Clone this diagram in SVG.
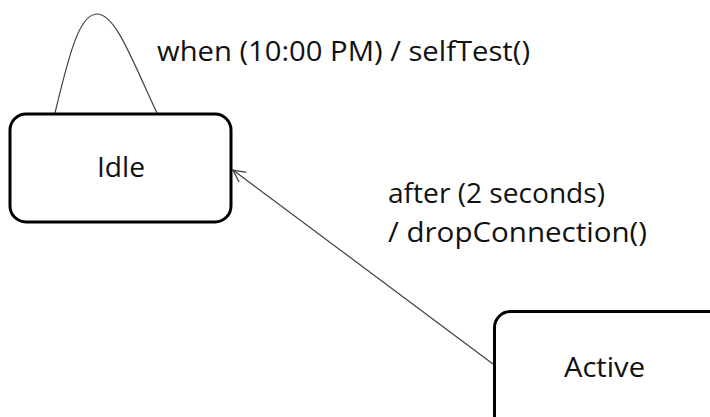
<svg xmlns="http://www.w3.org/2000/svg" width="710" height="417" viewBox="0 0 710 417">
  <style>
    .state { fill: #ffffff; stroke: #000000; stroke-width: 3; }
    .label { font-family: "Open Sans", "Liberation Sans", sans-serif; font-size: 28px; fill: #111111; }
    .edge { fill: none; stroke: #404040; stroke-width: 1.2; }
  </style>
  <defs>
    <marker id="open-arrow" viewBox="0 0 14 14" refX="13" refY="7" markerWidth="14" markerHeight="14" markerUnits="userSpaceOnUse" orient="auto">
      <path d="M1,1 L13,7 L1,13" fill="none" stroke="#404040" stroke-width="1.3"/>
    </marker>
  </defs>
  <rect width="710" height="417" fill="#ffffff"/>

  <g id="connectors">
    <g id="idle-self-loop">
      <path class="edge" d="M55,113 C70,50 80,14 97,14 C115,14 130,55 157,113"/>
      <text class="label" x="157" y="61" textLength="373" lengthAdjust="spacingAndGlyphs">when (10:00 PM) / selfTest()</text>
    </g>
    <g id="active-to-idle">
      <path class="edge" d="M493,364 L233,170" marker-end="url(#open-arrow)"/>
      <text class="label" x="388" y="203" textLength="217" lengthAdjust="spacingAndGlyphs">after (2 seconds)</text>
      <text class="label" x="388" y="242" textLength="259" lengthAdjust="spacingAndGlyphs">/ dropConnection()</text>
    </g>
  </g>

  <g id="idle">
    <rect class="state" x="10" y="114" width="221" height="108" rx="16" ry="16"/>
    <text class="label" x="97" y="177" textLength="48" lengthAdjust="spacingAndGlyphs">Idle</text>
  </g>

  <g id="active">
    <rect class="state" x="494.5" y="311.5" width="240" height="130" rx="16" ry="16"/>
    <text class="label" x="564" y="377" textLength="81" lengthAdjust="spacingAndGlyphs">Active</text>
  </g>
</svg>
